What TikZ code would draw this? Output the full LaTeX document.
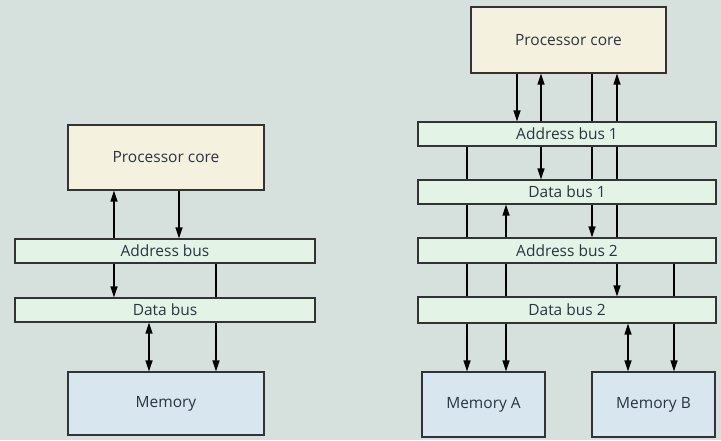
\documentclass[tikz,border=0pt]{standalone}
\usepackage{fontspec}
\setmainfont{Open Sans}
\usetikzlibrary{arrows.meta,positioning,calc}
\definecolor{bgcol}{HTML}{D6E0DC}
\definecolor{corecol}{HTML}{F5F1DF}
\definecolor{buscol}{HTML}{E3F3E6}
\definecolor{memcol}{HTML}{D8E7EF}
\definecolor{txtcol}{HTML}{2B3442}
\tikzset{
  box/.style={draw=black!80, line width=1.1pt, inner sep=0pt, text=txtcol,
    font=\fontsize{15.5}{18}\selectfont},
  corebox/.style={box, fill=corecol, minimum width=196pt, minimum height=65pt},
  busbox/.style={box, fill=buscol, minimum width=300pt, minimum height=24pt},
  membox/.style={box, fill=memcol, minimum width=196pt, minimum height=63pt},
  wire/.style={line width=1.3pt},
  arr/.style={wire, -{Triangle[length=11pt,width=7pt]}},
  darr/.style={wire, {Triangle[length=11pt,width=7pt]}-{Triangle[length=11pt,width=7pt]}}
}

\begin{document}
\begin{tikzpicture}[x=1pt, y=-1pt]
\fill[bgcol] (0,0) rectangle (721,440);
\useasboundingbox (0,0) rectangle (721,440);

% single memory system
\node[corebox] (coreL) at (166,157.5) {Processor core};
\node[busbox]  (addrL) at (165,251)   {Address bus};
\node[busbox]  (dataL) at (165,310)   {Data bus};
\node[membox]  (memL)  at (166,403.5) {Memory};

\coordinate (l1) at (114,0);
\coordinate (l2) at (179,0);
\coordinate (l3) at (216,0);
\coordinate (l4) at (149,0);

\draw[arr]  (addrL.north -| l1) -- (coreL.south -| l1);
\draw[arr]  (coreL.south -| l2) -- (addrL.north -| l2);
\draw[arr]  (addrL.south -| l1) -- (dataL.north -| l1);
\draw[wire] (addrL.south -| l3) -- (dataL.north -| l3);
\draw[darr] (dataL.south -| l4) -- (memL.north -| l4);
\draw[arr]  (dataL.south -| l3) -- (memL.north -| l3);

% two memory system
\node[corebox, minimum width=195pt, minimum height=66pt] (coreR) at (568.5,40) {Processor core};
\node[busbox, minimum width=298pt] (addrA) at (567,134)   {Address bus 1};
\node[busbox, minimum width=298pt] (dataA) at (567,192)   {Data bus 1};
\node[busbox, minimum width=298pt, minimum height=25pt] (addrB) at (567,250.5) {Address bus 2};
\node[busbox, minimum width=298pt, minimum height=26pt] (dataB) at (567,310)   {Data bus 2};
\node[membox, minimum width=123pt, minimum height=65pt] (memA) at (483.5,404.5) {Memory A};
\node[membox, minimum width=123pt, minimum height=65pt] (memB) at (653.5,404.5) {Memory B};

\coordinate (r1) at (467,0);
\coordinate (r2) at (506,0);
\coordinate (r3) at (517,0);
\coordinate (r4) at (541,0);
\coordinate (r5) at (592,0);
\coordinate (r6) at (617,0);
\coordinate (r7) at (628,0);
\coordinate (r8) at (674,0);

% core to address bus 1
\draw[arr]  (coreR.south -| r3) -- (addrA.north -| r3);
\draw[arr]  (addrA.north -| r4) -- (coreR.south -| r4);
\draw[wire] (coreR.south -| r5) -- (addrA.north -| r5);
\draw[arr]  (addrA.north -| r6) -- (coreR.south -| r6);
% address bus 1 to data bus 1
\draw[wire] (addrA.south -| r1) -- (dataA.north -| r1);
\draw[arr]  (addrA.south -| r4) -- (dataA.north -| r4);
\draw[wire] (addrA.south -| r5) -- (dataA.north -| r5);
\draw[wire] (addrA.south -| r6) -- (dataA.north -| r6);
% data bus 1 to address bus 2
\draw[wire] (dataA.south -| r1) -- (addrB.north -| r1);
\draw[arr]  (addrB.north -| r2) -- (dataA.south -| r2);
\draw[arr]  (dataA.south -| r5) -- (addrB.north -| r5);
\draw[wire] (dataA.south -| r6) -- (addrB.north -| r6);
% address bus 2 to data bus 2
\draw[wire] (addrB.south -| r1) -- (dataB.north -| r1);
\draw[wire] (addrB.south -| r2) -- (dataB.north -| r2);
\draw[arr]  (addrB.south -| r6) -- (dataB.north -| r6);
\draw[wire] (addrB.south -| r8) -- (dataB.north -| r8);
% data bus 2 to memories
\draw[arr]  (dataB.south -| r1) -- (memA.north -| r1);
\draw[arr]  (dataB.south -| r2) -- (memA.north -| r2);
\draw[darr] (dataB.south -| r7) -- (memB.north -| r7);
\draw[arr]  (dataB.south -| r8) -- (memB.north -| r8);
\end{tikzpicture}
\end{document}
